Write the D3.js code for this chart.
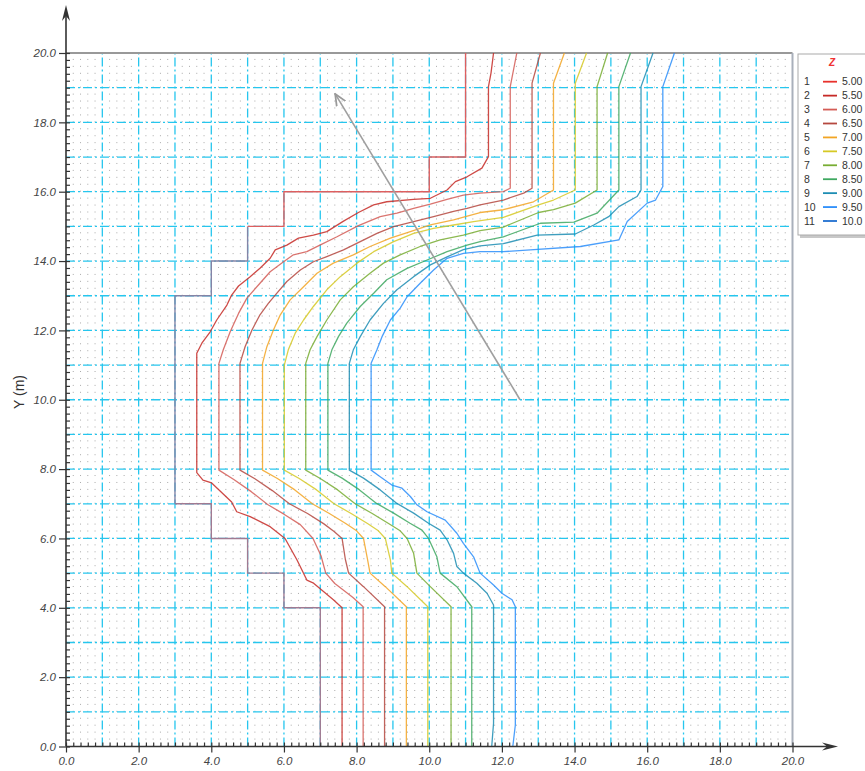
<!DOCTYPE html>
<html>
<head>
<meta charset="utf-8">
<script src="https://cdn.jsdelivr.net/npm/d3@7"></script>
<style>
  body { margin: 0; background: #fff; }
  svg { display: block; font-family: "Liberation Sans", Arial, sans-serif; }
</style>
</head>
<body>
<div id="chart"></div>
<script>
// Data
const levels = ['5.00', '5.50', '6.00', '6.50', '7.00', '7.50', '8.00', '8.50', '9.00', '9.50', '10.0']
const levelColors = ['#e8322c', '#c62a26', '#d45c56', '#b5483f', '#f2a524', '#d6c925',
  '#78ad33', '#3ea860', '#1d8db3', '#2c8efa', '#1f6fd0']

const xTicks = [0, 2, 4, 6, 8, 10, 12, 14, 16, 18, 20]
const yTicks = [0, 2, 4, 6, 8, 10, 12, 14, 16, 18, 20]

// domain boundary (steps)
const boundaryLow = [[7, 0], [7, 4], [6, 4], [6, 5], [5, 5], [5, 6], [4, 6], [4, 7], [3, 7]]
const boundaryMid = [[3, 7], [3, 13], [4, 13], [4, 14], [5, 14], [5, 15]]
const boundaryTop = [[5, 15], [6, 15], [6, 16], [10, 16], [10, 17], [11, 17], [11, 20]]

// contour lines, level 5.50 ... 9.50
const line1 = [[7.6, 0], [7.6, 4.0], [7.36, 4.23], [6.8, 4.72], [6.63, 4.8], [6.36, 5.38], [6.03, 6.0],
  [5.62, 6.34], [5.07, 6.63], [4.7, 6.77], [4.56, 7.05], [4.01, 7.6], [3.77, 7.68], [3.6, 7.9],
  [3.6, 11.34], [3.74, 11.63], [3.97, 11.96], [4.15, 12.3], [4.43, 12.73], [4.56, 13.02], [4.75, 13.28],
  [5.07, 13.55], [5.34, 13.79], [5.62, 14.08], [5.76, 14.32], [6.08, 14.46], [6.4, 14.66], [6.81, 14.75],
  [7.18, 14.85], [7.64, 15.15], [8.05, 15.4], [8.47, 15.62], [8.83, 15.71], [9.57, 15.78], [10.03, 15.81],
  [10.49, 16.05], [10.72, 16.29], [11.04, 16.43], [11.45, 16.68], [11.63, 17.01], [11.63, 19.03],
  [11.7, 19.42], [11.77, 20]]
const line2 = [[8.18, 0], [8.18, 4.03], [7.9, 4.3], [7.4, 4.7], [7.15, 5.0], [7.02, 5.5], [6.8, 6.0],
  [6.45, 6.4], [6.0, 6.7], [5.55, 6.98], [5.1, 7.35], [4.62, 7.7], [4.21, 7.97], [4.21, 11.05],
  [4.33, 11.44], [4.52, 11.96], [4.75, 12.49], [4.98, 12.93], [5.34, 13.36], [5.62, 13.69], [5.99, 13.98],
  [6.26, 14.18], [6.63, 14.27], [6.99, 14.46], [7.46, 14.7], [8.05, 15.02], [8.65, 15.28], [9.11, 15.38],
  [9.57, 15.52], [10.03, 15.64], [10.49, 15.78], [10.94, 15.9], [11.4, 15.96], [12.04, 16.0],
  [12.23, 16.1], [12.23, 19.03], [12.41, 20]]
const line3 = [[8.77, 0], [8.77, 4.03], [8.19, 4.61], [7.78, 5.0], [7.69, 5.4], [7.6, 6.0], [7.38, 6.2],
  [7.1, 6.42], [6.65, 6.72], [6.15, 7.0], [5.68, 7.38], [5.2, 7.72], [4.79, 7.97], [4.79, 11.05],
  [4.93, 11.53], [5.12, 12.01], [5.34, 12.45], [5.57, 12.78], [5.8, 13.07], [6.08, 13.41], [6.45, 13.74],
  [6.81, 13.98], [7.18, 14.13], [7.64, 14.32], [8.1, 14.56], [8.56, 14.8], [9.02, 14.99], [9.57, 15.14],
  [10.12, 15.28], [10.67, 15.43], [11.04, 15.52], [11.4, 15.62], [12.04, 15.76], [12.6, 15.96],
  [12.83, 16.1], [12.83, 19.13], [13.06, 20]]
const line4 = [[9.37, 0], [9.37, 4.03], [8.79, 4.61], [8.37, 5.0], [8.3, 5.4], [8.19, 6.0], [8.0, 6.22],
  [7.7, 6.43], [7.25, 6.72], [6.78, 7.0], [6.3, 7.4], [5.82, 7.73], [5.41, 7.97], [5.41, 11.05],
  [5.53, 11.53], [5.71, 12.01], [5.9, 12.45], [6.17, 12.88], [6.54, 13.26], [6.91, 13.65], [7.36, 13.94],
  [7.91, 14.18], [8.37, 14.42], [8.93, 14.66], [9.48, 14.85], [10.03, 15.04], [10.67, 15.19],
  [11.4, 15.4], [12.04, 15.48], [12.87, 15.71], [13.42, 16.05], [13.42, 19.13], [13.72, 20]]
const line5 = [[9.96, 0], [9.96, 4.03], [9.39, 4.61], [8.97, 5.0], [8.93, 5.38], [8.79, 6.0], [8.6, 6.22],
  [8.3, 6.43], [7.85, 6.72], [7.38, 7.0], [6.9, 7.4], [6.42, 7.73], [6.01, 7.97], [6.01, 11.0],
  [6.12, 11.44], [6.31, 11.92], [6.54, 12.3], [6.81, 12.69], [7.18, 13.17], [7.55, 13.55], [8.01, 13.94],
  [8.47, 14.27], [9.02, 14.56], [9.57, 14.8], [10.12, 14.94], [10.67, 15.04], [11.22, 15.14],
  [12.04, 15.26], [13.01, 15.62], [13.42, 15.76], [14.02, 16.05], [14.02, 19.13], [14.33, 20]]
const line6 = [[10.6, 0], [10.6, 4.03], [10.03, 4.61], [9.66, 5.0], [9.57, 5.57], [9.39, 6.0], [9.2, 6.22],
  [8.88, 6.43], [8.43, 6.72], [7.96, 7.0], [7.48, 7.4], [7.0, 7.73], [6.6, 7.97], [6.6, 11.05],
  [6.72, 11.44], [6.91, 11.82], [7.18, 12.3], [7.55, 12.88], [7.91, 13.26], [8.37, 13.65], [8.74, 13.94],
  [9.2, 14.18], [9.75, 14.42], [10.3, 14.61], [10.94, 14.75], [11.4, 14.88], [12.04, 14.98],
  [13.01, 15.4], [13.42, 15.48], [14.02, 15.67], [14.62, 16.05], [14.62, 19.03], [14.91, 20]]
const line7 = [[11.17, 0], [11.17, 4.03], [10.76, 4.61], [10.3, 5.0], [10.21, 5.47], [9.98, 6.0],
  [9.8, 6.24], [9.47, 6.44], [9.02, 6.73], [8.55, 7.01], [8.08, 7.4], [7.6, 7.74], [7.21, 7.97],
  [7.21, 11.05], [7.32, 11.44], [7.5, 11.82], [7.73, 12.21], [8.1, 12.69], [8.47, 13.07], [8.83, 13.46],
  [9.39, 13.79], [9.94, 14.03], [10.49, 14.27], [11.04, 14.46], [11.4, 14.56], [12.04, 14.7],
  [13.06, 15.09], [13.98, 15.12], [14.62, 15.38], [15.22, 16.05], [15.22, 19.03], [15.54, 20]]
const line8 = [[11.72, 0], [11.77, 0.67], [11.77, 4.08], [11.59, 4.42], [11.31, 4.71], [10.94, 5.0],
  [10.76, 5.19], [10.67, 5.57], [10.49, 5.96], [10.3, 6.24], [9.98, 6.44], [9.57, 6.73], [9.11, 7.01],
  [8.65, 7.4], [8.19, 7.74], [7.8, 7.97], [7.8, 11.05], [7.91, 11.44], [8.1, 11.82], [8.37, 12.3],
  [8.74, 12.78], [9.11, 13.17], [9.57, 13.55], [10.03, 13.89], [10.49, 14.12], [10.94, 14.33],
  [11.4, 14.44], [12.04, 14.5], [12.97, 14.75], [14.02, 14.78], [14.53, 15.04], [14.94, 15.28],
  [15.22, 15.57], [15.72, 15.86], [15.83, 16.05], [15.83, 19.03], [16.16, 20]]
const line9 = [[12.3, 0], [12.37, 0.62], [12.37, 4.03], [12.28, 4.23], [12.0, 4.42], [11.77, 4.66],
  [11.4, 5.0], [11.22, 5.47], [10.94, 5.86], [10.76, 6.15], [10.44, 6.53], [9.94, 6.77], [9.66, 6.97],
  [9.48, 7.21], [9.25, 7.45], [8.97, 7.54], [8.65, 7.78], [8.4, 7.97], [8.4, 11.05], [8.56, 11.44],
  [8.7, 11.82], [8.93, 12.3], [9.2, 12.64], [9.39, 12.97], [9.75, 13.36], [10.12, 13.74], [10.49, 14.08],
  [10.94, 14.22], [11.4, 14.27], [12.04, 14.27], [12.78, 14.32], [14.16, 14.42], [15.22, 14.61],
  [15.45, 15.14], [16.0, 15.67], [16.23, 15.76], [16.43, 16.15], [16.43, 19.03], [16.75, 20]]

const contours = [line1, line2, line3, line4, line5, line6, line7, line8, line9]
const contourLevel = [1, 2, 3, 4, 5, 6, 7, 8, 9] // index into levels

// direction arrow: from -> to
const arrowFrom = [12.5, 10.0]
const arrowTo = [7.41, 18.82]

// Dimensions
const dimensions = {
  width: 865,
  height: 771,
  left: 66,
  right: 792.5,
  top: 53,
  bottom: 746.5
}

const svg = d3.select('#chart')
  .append('svg')
  .attr('width', dimensions.width)
  .attr('height', dimensions.height)

// Scales
const xScale = d3.scaleLinear().domain([0, 20]).range([dimensions.left, dimensions.right])
const yScale = d3.scaleLinear().domain([0, 20]).range([dimensions.bottom, dimensions.top])

// dotted fine grid (0.2 step)
const fineSteps = d3.range(1, 100).map(i => i / 5).filter(v => Math.abs(v - Math.round(v)) > 1e-6)
const dotGap = yScale(0) - yScale(0.2)
svg.append('g')
  .selectAll('line')
  .data(fineSteps)
  .join('line')
  .attr('x1', d => xScale(d))
  .attr('x2', d => xScale(d))
  .attr('y1', yScale(0))
  .attr('y2', yScale(20))
  .attr('stroke', '#aaa')
  .attr('stroke-width', 1)
  .attr('stroke-dasharray', `1 ${dotGap - 1}`)

// cyan dash-dot grid at each unit
const unitSteps = d3.range(1, 20)
const grid = svg.append('g')
  .attr('stroke', '#26c6ee')
  .attr('stroke-width', 1.3)
  .attr('stroke-dasharray', '9 3 2 3')
grid.selectAll('.gx')
  .data(unitSteps)
  .join('line')
  .attr('x1', d => xScale(d))
  .attr('x2', d => xScale(d))
  .attr('y1', yScale(0))
  .attr('y2', yScale(20))
grid.selectAll('.gy')
  .data(unitSteps)
  .join('line')
  .attr('x1', xScale(0))
  .attr('x2', xScale(20))
  .attr('y1', d => yScale(d))
  .attr('y2', d => yScale(d))

// frame top / right
svg.append('line')
  .attr('x1', xScale(0)).attr('x2', xScale(20))
  .attr('y1', yScale(20)).attr('y2', yScale(20))
  .attr('stroke', '#999').attr('stroke-width', 2)
svg.append('line')
  .attr('x1', xScale(20)).attr('x2', xScale(20))
  .attr('y1', yScale(0)).attr('y2', yScale(20))
  .attr('stroke', '#a9b0bb').attr('stroke-width', 2)

const lineGen = d3.line()
  .x(d => xScale(d[0]))
  .y(d => yScale(d[1]))

// boundary
svg.append('path').attr('d', lineGen(boundaryLow))
  .attr('fill', 'none').attr('stroke', '#a07a92').attr('stroke-width', 1.4)
svg.append('path').attr('d', lineGen(boundaryMid))
  .attr('fill', 'none').attr('stroke', '#8484a6').attr('stroke-width', 1.4)
svg.append('path').attr('d', lineGen(boundaryTop))
  .attr('fill', 'none').attr('stroke', '#de5f5f').attr('stroke-width', 1.4)

// contours
svg.append('g')
  .selectAll('path')
  .data(contours)
  .join('path')
  .attr('d', d => lineGen(d))
  .attr('fill', 'none')
  .attr('stroke', (_, i) => levelColors[contourLevel[i]])
  .attr('stroke-opacity', 0.85)
  .attr('stroke-width', 1.3)
  .attr('stroke-linejoin', 'round')

// direction arrow
svg.append('defs')
  .append('marker')
  .attr('id', 'head')
  .attr('viewBox', '0 0 10 10')
  .attr('refX', 9)
  .attr('refY', 5)
  .attr('markerWidth', 8)
  .attr('markerHeight', 8)
  .attr('orient', 'auto')
  .append('path')
  .attr('d', 'M0,1 L9,5 L0,9')
  .attr('fill', 'none')
  .attr('stroke', '#9a9a9a')
  .attr('stroke-width', 1.4)

svg.append('line')
  .attr('x1', xScale(arrowFrom[0])).attr('y1', yScale(arrowFrom[1]))
  .attr('x2', xScale(arrowTo[0])).attr('y2', yScale(arrowTo[1]))
  .attr('stroke', '#9f9f9f')
  .attr('stroke-width', 1.6)
  .attr('marker-end', 'url(#head)')

// Axes
const fmt = d3.format('.1f')
const minorTicks = d3.range(0, 101).map(i => i / 5)

const yAxisGroup = svg.append('g')
  .attr('transform', `translate(${dimensions.left},0)`)
  .call(d3.axisLeft(yScale).tickValues(yTicks).tickFormat(fmt).tickSize(7).tickPadding(3))
yAxisGroup.append('g')
  .call(d3.axisRight(yScale).tickValues(minorTicks).tickFormat('').tickSize(4))
  .select('.domain').remove()

const xAxisGroup = svg.append('g')
  .attr('transform', `translate(0,${dimensions.bottom})`)
  .call(d3.axisBottom(xScale).tickValues(xTicks).tickFormat(fmt).tickSize(6).tickPadding(4))
xAxisGroup.append('g')
  .call(d3.axisTop(xScale).tickValues(minorTicks).tickFormat('').tickSize(4))
  .select('.domain').remove()

svg.selectAll('.domain').remove()
svg.selectAll('.tick line').attr('stroke', '#333').attr('stroke-width', 1.2)
svg.selectAll('.tick text')
  .attr('fill', '#444')
  .style('font-size', '11.5px')
  .style('font-style', 'italic')
  .style('font-family', '"Liberation Sans", Arial, sans-serif')

// axis lines with arrow heads
svg.append('line')
  .attr('x1', dimensions.left).attr('x2', dimensions.left)
  .attr('y1', dimensions.bottom).attr('y2', 12)
  .attr('stroke', '#333').attr('stroke-width', 1.6)
svg.append('path')
  .attr('d', `M${dimensions.left},5 L${dimensions.left + 4},21 L${dimensions.left},16 L${dimensions.left - 4},21 Z`)
  .attr('fill', '#333')
svg.append('line')
  .attr('x1', dimensions.left).attr('x2', 830)
  .attr('y1', dimensions.bottom).attr('y2', dimensions.bottom)
  .attr('stroke', '#333').attr('stroke-width', 1.6)
svg.append('path')
  .attr('d', `M838,${dimensions.bottom} L822,${dimensions.bottom - 4} L827,${dimensions.bottom} L822,${dimensions.bottom + 4} Z`)
  .attr('fill', '#333')

// y title
svg.append('text')
  .text('Y (m)')
  .attr('transform', `translate(24,392) rotate(-90)`)
  .attr('text-anchor', 'middle')
  .attr('fill', '#333')
  .style('font-size', '14px')

// Legend
const legend = svg.append('g').attr('transform', 'translate(798,54)')
legend.append('rect')
  .attr('x', 2).attr('y', 3).attr('width', 80).attr('height', 181)
  .attr('fill', '#c8c8c8')
legend.append('rect')
  .attr('width', 80).attr('height', 181)
  .attr('fill', '#fff').attr('stroke', '#aaa')
legend.append('text')
  .text('Z')
  .attr('x', 34).attr('y', 12)
  .attr('text-anchor', 'middle')
  .attr('fill', '#f03232')
  .style('font-size', '10px')
  .style('font-style', 'italic')
  .style('font-weight', 'bold')

const rows = legend.selectAll('.row')
  .data(levels)
  .join('g')
  .attr('transform', (_, i) => `translate(0,${27.7 + i * 13.93})`)
rows.append('text')
  .text((_, i) => i + 1)
  .attr('x', 6).attr('dy', '0.35em')
  .attr('fill', '#333').style('font-size', '10.5px')
rows.append('line')
  .attr('x1', 25).attr('x2', 39)
  .attr('stroke', (_, i) => levelColors[i])
  .attr('stroke-width', 1.8)
rows.append('text')
  .text(d => d)
  .attr('x', 44).attr('dy', '0.35em')
  .attr('fill', '#333').style('font-size', '10.5px')
</script>
</body>
</html>
